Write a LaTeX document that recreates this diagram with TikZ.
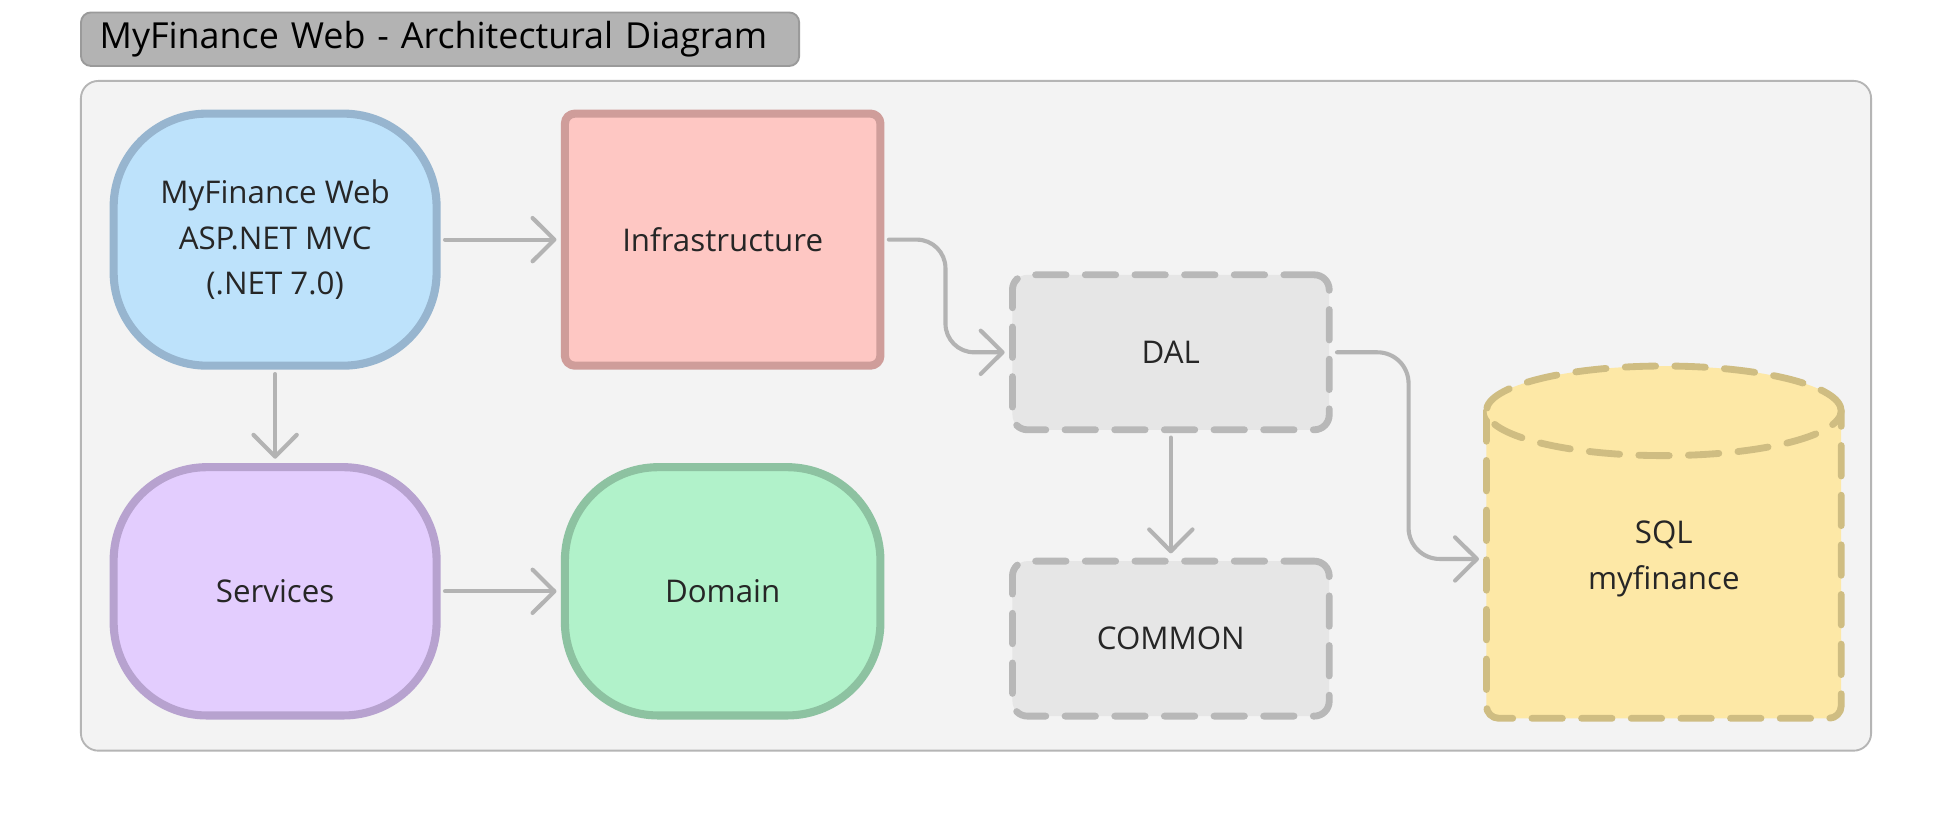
\documentclass[tikz,border=0pt]{standalone}
\usepackage{fontspec}
\setmainfont{Open Sans}
\usetikzlibrary{arrows.meta}

\definecolor{textgray}{HTML}{262626}
\definecolor{linkgray}{HTML}{B3B3B3}
\definecolor{framefill}{HTML}{F3F3F3}
\definecolor{frameline}{HTML}{B5B5B5}
\definecolor{titlefill}{HTML}{B3B3B3}
\definecolor{titleline}{HTML}{9A9A9A}
\definecolor{webfill}{HTML}{BDE2FB}
\definecolor{webline}{HTML}{97B5CF}
\definecolor{infrafill}{HTML}{FEC7C3}
\definecolor{infraline}{HTML}{CF9D9A}
\definecolor{servfill}{HTML}{E3CDFE}
\definecolor{servline}{HTML}{B7A2CF}
\definecolor{domfill}{HTML}{B1F2CA}
\definecolor{domline}{HTML}{8DC2A1}
\definecolor{dalfill}{HTML}{E6E6E6}
\definecolor{dalline}{HTML}{B8B8B8}
\definecolor{sqlfill}{HTML}{FDE8A6}
\definecolor{sqlline}{HTML}{CFBD82}

\begin{document}
\begin{tikzpicture}[x=0.02cm, y=-0.02cm, line join=round, line cap=round,
    box/.style={draw, line width=0.13cm, align=center, text=textgray,
        font=\fontsize{14.3}{21}\selectfont, minimum width=5.07cm},
    roundbox/.style={box, rounded corners=1.5cm, minimum height=3.99cm},
    flatbox/.style={box, rounded corners=0.16cm, minimum height=4.05cm},
    dashbox/.style={box, line width=0.11cm, rounded corners=0.24cm, dash pattern=on 13.9pt off 8.8pt,
        draw=dalline, fill=dalfill, minimum width=5.09cm, minimum height=2.49cm},
    cyl/.style={draw=sqlline, fill=sqlfill, line width=0.11cm, dash pattern=on 13.9pt off 8.8pt},
    link/.style={draw=linkgray, line width=0.066cm,
        -{Straight Barb[length=10pt, width=19.8pt, line cap=round, line join=round]},
        shorten <=2pt, shorten >=2pt}]

    \fill[white] (0,0) rectangle (1568,668);
    \useasboundingbox (0,0) rectangle (1568,668);

    \draw[draw=frameline, fill=framefill, line width=0.03cm, rounded corners=0.28cm] (65,65) rectangle (1503,603);

    \node[draw=titleline, fill=titlefill, line width=0.03cm, rounded corners=0.16cm,
        minimum height=0.86cm, text width=10.94cm, inner xsep=0.3cm, align=left,
        font=\fontsize{16.4}{19}\selectfont, text=black] (title) at (353.5,31.5) {MyFinance Web - Architectural Diagram};

    \node[roundbox, draw=webline, fill=webfill, minimum width=5.19cm, minimum height=4.05cm] (web) at (221,192.5) {MyFinance Web\\ASP.NET MVC\\(.NET 7.0)};
    \node[flatbox, draw=infraline, fill=infrafill] (infra) at (580.5,192.5) {Infrastructure};
    \node[roundbox, draw=servline, fill=servfill, minimum width=5.19cm] (services) at (221,475) {Services};
    \node[roundbox, draw=domline, fill=domfill] (domain) at (580.5,475) {Domain};
    \node[dashbox] (dal) at (940.5,283) {DAL};
    \node[dashbox] (common) at (940.5,513) {COMMON};

    \draw[cyl] (1194,330) {[rounded corners=0.2cm] -- (1194,577) -- (1479,577)} -- (1479,330);
    \draw[cyl] (1336.5,330) ellipse [x radius=2.85cm, y radius=0.72cm];
    \node[align=center, text=textgray, font=\fontsize{14.3}{21}\selectfont,
        minimum width=5.8cm, inner sep=0pt, outer sep=0pt] (sql) at (1336.5,449) {SQL\\myfinance};

    \draw[link] (web.east) -- (infra.west);
    \draw[link] (web.south) -- (services.north);
    \draw[link] (services.east) -- (domain.west);
    \draw[link, rounded corners=0.46cm] (infra.east) -- ++(49,0) |- (dal.west);
    \draw[link] (dal.south) -- (common.north);
    \draw[link, rounded corners=0.5cm] (dal.east) -- ++(61,0) |- (sql.west);
\end{tikzpicture}
\end{document}
